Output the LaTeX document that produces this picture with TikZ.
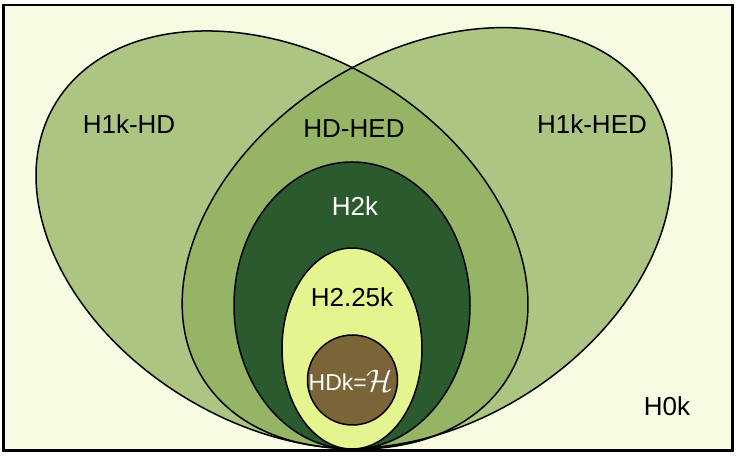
\documentclass[tikz,border=0pt]{standalone}
\usepackage{graphicx}
\usepackage{fontspec}
\setmainfont{Liberation Sans}

\definecolor{bgcol}{HTML}{F7FBE2}
\definecolor{lobecol}{HTML}{ADC583}
\definecolor{midcol}{HTML}{95B466}
\definecolor{darkcol}{HTML}{2C5A2F}
\definecolor{palecol}{HTML}{E4F48E}
\definecolor{browncol}{HTML}{7A6438}

\begin{document}
\begin{tikzpicture}[x=1pt, y=1pt,
    lbl/.style={font=\fontsize{26}{30}\selectfont, inner sep=0pt},
    edge/.style={draw=black, line width=1.5pt}]
    \useasboundingbox (0,0) rectangle (737,457);
    % 背景
    \fill[bgcol] (3.5,6.5) rectangle (732.5,452);

    % 左右の卵形
    \fill[lobecol, rotate around={-31:(282,217)}] (282,217) ellipse [x radius=264.5, y radius=185];
    \fill[lobecol, rotate around={32:(427,219)}] (427,219) ellipse [x radius=264.5, y radius=185];
    % 重なり部分
    \begin{scope}
        \clip[rotate around={-31:(282,217)}] (282,217) ellipse [x radius=264.5, y radius=185];
        \fill[midcol, rotate around={32:(427,219)}] (427,219) ellipse [x radius=264.5, y radius=185];
    \end{scope}
    \draw[edge, rotate around={-31:(282,217)}] (282,217) ellipse [x radius=264.5, y radius=185];
    \draw[edge, rotate around={32:(427,219)}] (427,219) ellipse [x radius=264.5, y radius=185];

    % 内側の楕円
    \draw[edge, fill=darkcol] (352,151.5) ellipse [x radius=118, y radius=143.5];
    \draw[edge, fill=palecol] (352,108.5) ellipse [x radius=70, y radius=100.5];
    \draw[edge, fill=browncol] (352.5,77) circle [radius=45];

    % 枠
    \draw[line width=2.5pt] (3.5,6.5) rectangle (732.5,452);

    % ラベル
    \node[lbl] (h1khd) at (129,333) {H1k-HD};
    \node[lbl] (hdhed) at (354,328) {HD-HED};
    \node[lbl] (h1khed) at (592,333) {H1k-HED};
    \node[lbl, text=white] (h2k) at (355,251) {H2k};
    \node[lbl] (h225k) at (352,160) {H2.25k};
    \node[lbl, text=white, font=\fontsize{23}{28}\selectfont] (hdk) at (351,76) {HDk=\raisebox{-0.06em}{\scalebox{1.25}{$\mathcal{H}$}}};
    \node[lbl] (h0k) at (667,51) {H0k};
\end{tikzpicture}
\end{document}
